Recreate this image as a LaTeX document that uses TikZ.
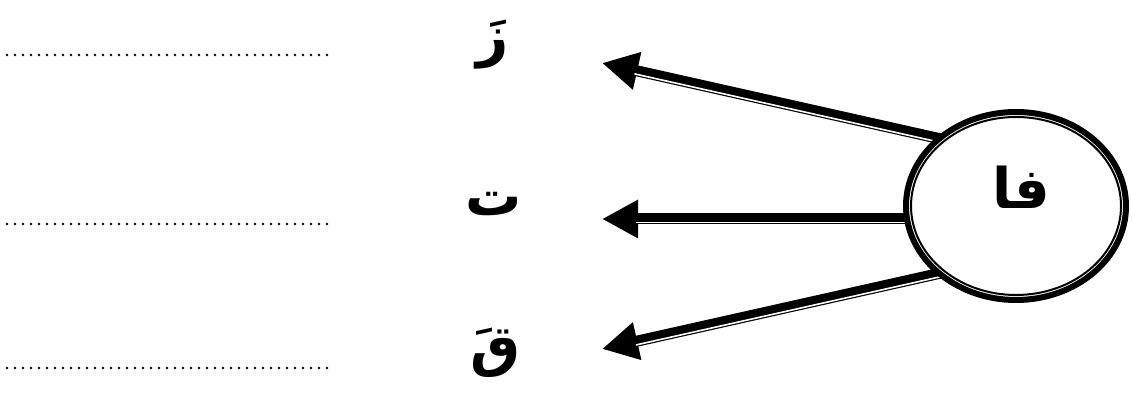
\documentclass[tikz,border=0pt]{standalone}
\usepackage{fontspec}
\usetikzlibrary{shapes.geometric,arrows.meta,calc}
\TeXXeTstate=1
\newfontfamily\arabicfont[Script=Arabic]{DejaVu Sans}
\begin{document}
\begin{tikzpicture}[x=1pt,y=1pt,
  dotline/.style={line width=2.6pt, dash pattern=on 0pt off 8pt, line cap=round},
  letter/.style={font=\arabicfont\bfseries\fontsize{56}{56}\selectfont, inner sep=0pt, anchor=base},
  shaft/.style={line width=11pt, -{Triangle[length=36pt,width=36pt]}},
  gap/.style={white, line width=1.6pt, shorten >=34pt}]
\useasboundingbox (0,0) rectangle (1132,401);
% dotted answer lines
\coordinate (d1a) at (7,346);  \coordinate (d1b) at (330,346);
\coordinate (d2a) at (7,177);  \coordinate (d2b) at (330,177);
\coordinate (d3a) at (7,33);   \coordinate (d3b) at (330,33);
\draw[dotline] (d1a) -- (d1b);
\draw[dotline] (d2a) -- (d2b);
\draw[dotline] (d3a) -- (d3b);
% letters
\node[letter] (z) at (493,345) {\beginR زَ\endR};
\node[letter] (t) at (494,185) {\beginR ت\endR};
\node[letter] (q) at (496,35) {\beginR قَ\endR};
% arrows
\coordinate (s1) at (950,260); \coordinate (t1) at (602,338);
\coordinate (s2) at (930,182); \coordinate (t2) at (602,182);
\coordinate (s3) at (950,130); \coordinate (t3) at (602,52);
\foreach \s/\t in {s1/t1,s2/t2,s3/t3}{
  \draw[shaft] (\s) -- (\t);
  \draw[gap] ($(\s)!3.5pt!90:(\t)$) -- ($(\t)!3.5pt!-90:(\s)$);
}
% ellipse
\node[draw, ellipse, line width=6pt, fill=white, minimum width=220pt, minimum height=188pt, inner sep=0pt] (E) at (1016,195) {};
\draw[line width=2pt] (E.center) ellipse[x radius=105pt, y radius=89pt];
\node[letter] (fa) at (1021,192) {\beginR فا\endR};
\end{tikzpicture}
\end{document}
